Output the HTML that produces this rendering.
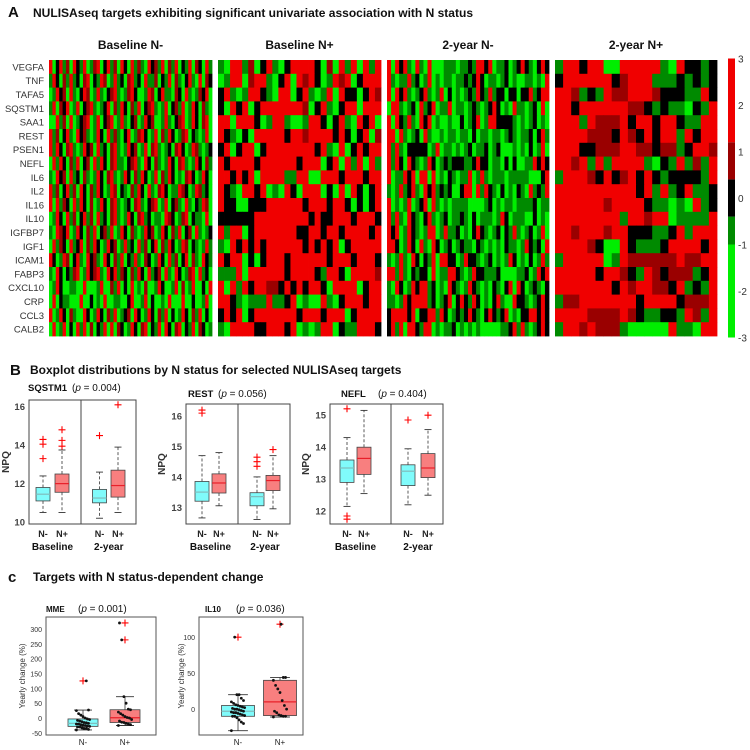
<!DOCTYPE html>
<html><head><meta charset="utf-8"><style>
body{margin:0;background:#fff;}
svg{display:block;font-family:"Liberation Sans",sans-serif;}
</style></head><body>
<svg id="fig" width="750" height="750" viewBox="0 0 750 750">
<text x="8" y="17" font-size="15" font-weight="bold" fill="#111">A</text>
<text x="33" y="17" font-size="12" font-weight="bold" fill="#111" textLength="440" lengthAdjust="spacingAndGlyphs">NULISAseq targets exhibiting significant univariate association with N status</text>
<g id="heat"></g>
<g id="cbar"></g>
<text x="10" y="375" font-size="15" font-weight="bold" fill="#111">B</text>
<text x="30" y="374" font-size="12" font-weight="bold" fill="#111">Boxplot distributions by N status for selected NULISAseq targets</text>
<g id="bplots"></g>
<text x="8" y="582" font-size="15" font-weight="bold" fill="#111">c</text>
<text x="33" y="581" font-size="12" font-weight="bold" fill="#111">Targets with N status-dependent change</text>
<g id="cplots"></g>
</svg>
<script>
// ---------- Heatmap data ----------
const genes=["VEGFA","TNF","TAFA5","SQSTM1","SAA1","REST","PSEN1","NEFL","IL6","IL2","IL16","IL10","IGFBP7","IGF1","ICAM1","FABP3","CXCL10","CRP","CCL3","CALB2"];
const groupTitles=["Baseline N-","Baseline N+","2-year N-","2-year N+"];
const heatBaseN=["603615063160256036150630615206351605260316053061","163052613056031650261305613062150316052036106053","016350610365016203561025630016503612053061025360","160536016035620136051630516035620160351602630510","006150601356016035601620350163500162035601630560","615036106352016306152036015630160526301560320160","616305620163506130562016350160562013056301652013","061630516035061630562103561063052016305610263051","106350613052016305610263051630160526301056301630","615036150630516301650320516306105630216530165230","606153061630501630562013056103560160351062031650","016306150361506130562016305613021065301560321060","106536016305160351602630510163501630516035062013","061530613605163016350261306150360516301650320161","630165036106351063051603261053016306150360510632","106303156016356106361530516306135061063015606130","016300110060001600516030601050016300160501600306","060311000600301060011003600160300106000600300160","601630510063016305160135063016305160301630516030","060160306160503160605301630560316063056031605301"];
const heatBaseP=["106615036103666630506160616","016605661036065630165603666","361016631066036101606330365","306360366666665036103660666","660666301661001663036106360","631030666663665666636303605","360366036666666636106036366","636666366666636660360616061","663636066661166006663666366","631066360106306660306063036","633003336666663666366303036","333333666666666363366636663","616603666666633663663666636","106363636666663636360366666","636603036663666666366636663","111606666663666631663066665","606163665536363663066660366","663101116113601006103666366","363603666666636663666036666","106666336663601016603116663"];
const heat2yN=["6063610610600011101131663601130136310363","6101161301601011011313630110130100110106","6063610136101603010131631613303303361366","0661013061360116011013101363010611013060","6063161063601001003013601663333101013010","6606101306100101101103011011013101130361","6161033333016011010130113013000101030160","6163063101630131333113633011030300116363","6011636066060103101160161011101111100036","1016136106361313003660616310301031061316","6010160136061010111100001301011011113011","6161063103610130113103011101630111003010","6360163101660161130103631013031610130160","6630163061063013013110310101031101631306","1016106303160663301633101301016301030161","6616103133060116631016331113000011301636","1063016366130106310163101031036063013103","1101636666130136036316301036100633101363","3666636033661630131363103631360103366363","3616066316601011301010100000113616101363"];
const heat2yP=["16636600666661063313","36666663566611131313","66513165566653331163","66366666655313110316","66616555636636631166","66665553653636616366","66633555665535513665","66561616666103161516","16665363563631333316","66666666663616136113","66666656666311010613","66666666166566011116","66566656633311361666","66665300631113666636","16666601655555565566","66666366531653555136","66666663656655361316","15566666663666635556","66665555653113316516","16656555100000611066"];
const levelValues=[-3,-0.7,-0.7,0,0.7,0.8,3];
const cbTicks=[3,2,1,0,-1,-2,-3];

// ---------- Boxplot (B) data ----------
const bGroups=["N-","N+","N-","N+"];
const sqstmStats=[[10.5,11.1,11.45,11.8,12.4],[10.5,11.55,12.0,12.5,13.75],[10.2,11.0,11.25,11.7,12.6],[10.5,11.3,11.9,12.7,13.9]];
const sqstmOut=[[13.3,14.05,14.3],[13.95,14.25,14.8],[14.5],[16.1]];
const sqstmTicks=[10,12,14,16];
const restStats=[[12.65,13.2,13.5,13.85,14.7],[13.05,13.47,13.8,14.1,14.8],[12.6,13.05,13.35,13.48,14.0],[12.95,13.55,13.88,14.05,14.7]];
const restOut=[[16.1,16.2],[],[14.35,14.5,14.65],[14.9]];
const restTicks=[13,14,15,16];
const neflStats=[[12.15,12.9,13.35,13.6,14.3],[12.55,13.15,13.65,14.0,15.15],[12.2,12.8,13.25,13.45,13.95],[12.5,13.05,13.35,13.8,14.55]];
const neflOut=[[15.2,11.85,11.75],[],[14.85],[15.0]];
const neflTicks=[12,13,14,15];

// ---------- Change (C) data ----------
const cGroups=["N-","N+"];
const mmeStats=[[-40,-28,-18,-3,27],[-25,-15,1,28,72]];
const mmeOut=[[125],[263,320]];
const mmePtsN=[-40,-38,-35,-35,-33,-30,-30,-28,-27,-25,-24,-22,-20,-20,-18,-16,-15,-12,-10,-8,-5,-3,0,5,10,15,25,27,125];
const mmePtsP=[-25,-22,-20,-18,-15,-14,-10,-5,0,2,5,10,15,20,28,30,50,72,263,320];
const mmeTicks=[-50,0,50,100,150,200,250,300];
const il10Stats=[[-30,-10,-3,5,20],[-11,-9,10,40,44]];
const il10Out=[[100],[118]];
const il10PtsN=[-30,-20,-18,-15,-12,-10,-10,-9,-8,-7,-6,-5,-5,-4,-3,-2,-1,0,0,1,2,3,4,5,6,8,10,12,15,20,20,100];
const il10PtsP=[-11,-10,-10,-9,-8,-5,-3,0,5,12,23,28,33,40,44,44,118];
const il10Ticks=[0,50,100];

const NS="http://www.w3.org/2000/svg";
function mk(parent,tag,attrs,txt){const e=document.createElementNS(NS,tag);for(const k in attrs)e.setAttribute(k,attrs[k]);if(txt!==undefined)e.textContent=txt;parent.appendChild(e);return e;}
function colorFor(v){if(v<=-1)return "#00ee00";if(v<=-0.4)return "#008a00";if(v<0.4)return "#000000";if(v<1.2)return "#9a0000";return "#f00000";}

// Heatmap
const heat=document.getElementById('heat');
const panels=[{d:heatBaseN,x0:49,x1:212},{d:heatBaseP,x0:218,x1:381},{d:heat2yN,x0:387,x1:549},{d:heat2yP,x0:555,x1:717}];
const hy0=60,hy1=336;
const rowH=(hy1-hy0)/genes.length;
genes.forEach((g,i)=>{
  const t=mk(heat,'text',{x:44,y:hy0+rowH*(i+0.5)+3.5,'font-size':9.5,'text-anchor':'end',fill:'#333'},g);
  
  
});
panels.forEach((p,pi)=>{
  const t=mk(heat,'text',{x:(p.x0+p.x1)/2,y:49,'font-size':12,'font-weight':'bold','text-anchor':'middle',fill:'#111'},groupTitles[pi]);
  
  
  const g=mk(heat,'g',{});
  
  
  p.d.forEach((row,ri)=>{
    const n=row.length,cw=(p.x1-p.x0)/n;
    for(let c=0;c<n;c++){
      const v=levelValues[+row[c]];
      const r=mk(g,'rect',{x:(p.x0+c*cw).toFixed(2),y:(hy0+ri*rowH).toFixed(2),width:(cw+0.4).toFixed(2),height:(rowH+0.4).toFixed(2),fill:colorFor(v)});
      
      
    }
  });
});
// Colorbar
const cb=document.getElementById('cbar');
const cbY=v=>198-v*(279/6);
[[-3,-1],[-1,-0.4],[-0.4,0.4],[0.4,1.2],[1.2,3]].forEach(([a,b])=>{
  const r=mk(cb,'rect',{x:728,y:cbY(b),width:7,height:cbY(a)-cbY(b),fill:colorFor((a+b)/2)});
  
  
});
cbTicks.forEach(v=>{
  const t=mk(cb,'text',{x:738,y:cbY(v)+4,'font-size':10,fill:'#333'},String(v));
  
  
});

// Box drawing
function drawBox(g,sc,cx,w,st,fill,med,dash,capW){
  const [lo,q1,m,q3,hi]=st;
  const wl1=mk(g,'line',{x1:cx,x2:cx,y1:sc(q3),y2:sc(hi),stroke:'#333','stroke-width':0.8,'stroke-dasharray':dash});
  
  const wl2=mk(g,'line',{x1:cx,x2:cx,y1:sc(q1),y2:sc(lo),stroke:'#333','stroke-width':0.8,'stroke-dasharray':dash});
  
  [hi,lo].forEach(v=>{const c=mk(g,'line',{x1:cx-capW/2,x2:cx+capW/2,y1:sc(v),y2:sc(v),stroke:'#333','stroke-width':0.9});
    });
  const b=mk(g,'rect',{x:cx-w/2,y:sc(q3),width:w,height:sc(q1)-sc(q3),fill:fill,stroke:'#444','stroke-width':0.8});
  
  const ml=mk(g,'line',{x1:cx-w/2,x2:cx+w/2,y1:sc(m),y2:sc(m),stroke:med,'stroke-width':1.2});
  
}
function plus(g,x,y,s){
  const p=mk(g,'path',{d:`M${x-s} ${y}H${x+s}M${x} ${y-s}V${y+s}`,stroke:'#f00','stroke-width':1.1,fill:'none'});
  
}
const CY='#80fbfb',CYM='#7fbdbd',RD='#f87f7f',RDM='#e8202a';

// B plots
const bp=document.getElementById('bplots');
const bDefs=[
 {name:'sqstm1',stats:sqstmStats,out:sqstmOut,ticks:sqstmTicks,x0:29,x1:136,div:81,cx:[43,62,99.5,118],vTop:16.35,vBot:9.9,title:'SQSTM1',tx:28,px:72,ty:391,lblX:9},
 {name:'rest',stats:restStats,out:restOut,ticks:restTicks,x0:186,x1:290,div:238,cx:[202,219,257,273],vTop:16.4,vBot:12.45,title:'REST',tx:188,px:218,ty:397,lblX:165},
 {name:'nefl',stats:neflStats,out:neflOut,ticks:neflTicks,x0:330,x1:443,div:391,cx:[347,364,408,428],vTop:15.35,vBot:11.6,title:'NEFL',tx:341,px:378,ty:397,lblX:309}
];
bDefs.forEach(d=>{
  const g=mk(bp,'g',{});
  
  
  const yB=524;const top=d.name==='sqstm1'?400:404;
  const sc=v=>yB-(v-d.vBot)/(d.vTop-d.vBot)*(yB-top);
  const fr=mk(g,'rect',{x:d.x0,y:top,width:d.x1-d.x0,height:yB-top,fill:'none',stroke:'#444','stroke-width':1});
  
  const dv=mk(g,'line',{x1:d.div,x2:d.div,y1:top,y2:yB,stroke:'#444','stroke-width':1});
  
  d.ticks.forEach(v=>{
    const t=mk(g,'text',{x:d.x0-4,y:sc(v)+3.5,'font-size':9.5,'font-weight':'bold','text-anchor':'end',fill:'#444'},String(v));
    
  });
  const yl=mk(g,'text',{x:d.lblX,y:(top+yB)/2,'font-size':10,'font-weight':'bold','text-anchor':'middle',fill:'#333',transform:`rotate(-90 ${d.lblX} ${(top+yB)/2})`},'NPQ');
  
  const tt=mk(g,'text',{x:d.tx,y:d.ty,'font-size':9.5,'font-weight':'bold',fill:'#111'},d.title);
  
  const pv=mk(g,'text',{x:d.px,y:d.ty,'font-size':10,fill:'#111'});
  
  pv.innerHTML='(<tspan font-style="italic">p</tspan> = '+({sqstm1:'0.004',rest:'0.056',nefl:'0.404'})[d.name]+')';
  d.stats.forEach((st,i)=>{
    drawBox(g,sc,d.cx[i],14,st,i%2?RD:CY,i%2?RDM:CYM,'3,2',7);
    d.out[i].forEach(v=>plus(g,d.cx[i],sc(v),3.5));
    const xl=mk(g,'text',{x:d.cx[i],y:537,'font-size':9,'font-weight':'bold','text-anchor':'middle',fill:'#222'},bGroups[i]);
    
  });
  [['Baseline',(d.cx[0]+d.cx[1])/2],['2-year',(d.cx[2]+d.cx[3])/2]].forEach(([s,x])=>{
    const t=mk(g,'text',{x:x,y:550,'font-size':10,'font-weight':'bold','text-anchor':'middle',fill:'#111'},s);
    
  });
});

// C plots
const cp=document.getElementById('cplots');
const cDefs=[
 {name:'mme',stats:mmeStats,out:mmeOut,pts:[mmePtsN,mmePtsP],ticks:mmeTicks,x0:46,x1:156,cx:[83,125],w:30,vTop:340,vBot:-57,title:'MME',tx:46,px:78,p:'0.001',lblX:25},
 {name:'il10',stats:il10Stats,out:il10Out,pts:[il10PtsN,il10PtsP],ticks:il10Ticks,x0:199,x1:303,cx:[238,280],w:33,vTop:128,vBot:-36,title:'IL10',tx:205,px:236,p:'0.036',lblX:184}
];
cDefs.forEach(d=>{
  const g=mk(cp,'g',{});
  
  
  const top=617,yB=735;
  const sc=v=>yB-(v-d.vBot)/(d.vTop-d.vBot)*(yB-top);
  const fr=mk(g,'rect',{x:d.x0,y:top,width:d.x1-d.x0,height:yB-top,fill:'none',stroke:'#555','stroke-width':1});
  
  d.ticks.forEach(v=>{
    const t=mk(g,'text',{x:d.x0-4,y:sc(v)+3,'font-size':7,'text-anchor':'end',fill:'#333'},String(v));
    
  });
  const yl=mk(g,'text',{x:d.lblX,y:(top+yB)/2,'font-size':8,'text-anchor':'middle',fill:'#333',transform:`rotate(-90 ${d.lblX} ${(top+yB)/2})`},'Yearly change (%)');
  
  const tt=mk(g,'text',{x:d.tx,y:612,'font-size':8,'font-weight':'bold',fill:'#111'},d.title);
  
  const pv=mk(g,'text',{x:d.px,y:612,'font-size':10,fill:'#111'});
  
  pv.innerHTML='(<tspan font-style="italic">p</tspan> = '+d.p+')';
  d.stats.forEach((st,i)=>{
    drawBox(g,sc,d.cx[i],d.w,st,i?RD:CY,i?RDM:CYM,'none',d.w*0.6);
    d.out[i].forEach(v=>plus(g,d.cx[i],sc(v),3.5));
    d.pts[i].forEach((v,k)=>{
      const off=((k*37)%13-6)*1.1;
      const c=mk(g,'circle',{cx:d.cx[i]+off,cy:sc(v),r:1.4,fill:'#111'});
      
    });
    const xl=mk(g,'text',{x:d.cx[i],y:745,'font-size':8,'text-anchor':'middle',fill:'#222'},cGroups[i]);
    
  });
});
</script>
</body></html>
